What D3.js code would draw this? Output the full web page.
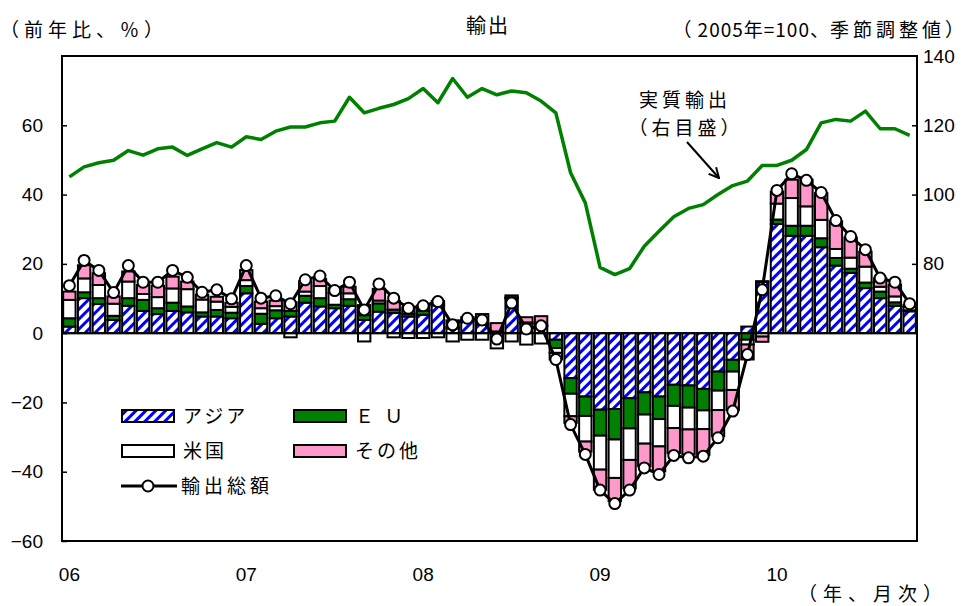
<!DOCTYPE html>
<html>
<head>
<meta charset="utf-8">
<script src="https://cdn.jsdelivr.net/npm/d3@7"></script>
<style>
  body { margin: 0; background: #fff; }
  svg text { font-family: "Liberation Sans", Arial, sans-serif; fill: #000; }
  svg .jp { font-family: "Noto Sans CJK JP", sans-serif; }
</style>
</head>
<body>
<div id="chart"></div>
<script>
// months 2006/01 .. 2010/10
var months = [
  "06/01","06/02","06/03","06/04","06/05","06/06","06/07","06/08","06/09","06/10","06/11","06/12",
  "07/01","07/02","07/03","07/04","07/05","07/06","07/07","07/08","07/09","07/10","07/11","07/12",
  "08/01","08/02","08/03","08/04","08/05","08/06","08/07","08/08","08/09","08/10","08/11","08/12",
  "09/01","09/02","09/03","09/04","09/05","09/06","09/07","09/08","09/09","09/10","09/11","09/12",
  "10/01","10/02","10/03","10/04","10/05","10/06","10/07","10/08","10/09","10/10"
]
var yearLabels = ["06","07","08","09","10"]

// contributions to y/y change (%)
var asia = [1.9,10.1,8.4,3.8,7.9,6.4,5.5,6.4,6.0,4.8,4.8,4.3,
            11.5,2.7,4.3,4.8,8.8,7.7,7.2,7.9,3.8,6.2,5.8,4.8,
            5.3,8.0,1.4,3.5,2.4,0.3,10.0,2.8,2.0,-1.9,-13.0,-18.3,
            -22.1,-21.9,-18.8,-17.1,-18.3,-14.9,-15.1,-16.1,-11.1,-7.7,1.9,14.8,
            31.5,28.1,28.1,24.8,19.5,17.4,13.0,10.1,7.9,6.3]
var eu   = [2.4,1.7,1.7,1.2,2.2,3.2,1.7,2.4,1.7,1.2,1.9,1.6,
            2.1,2.9,2.3,1.6,2.0,2.4,1.0,1.9,1.4,2.4,1.0,0.8,
            1.2,0.5,0.3,0.3,0.2,0.2,0.3,0.3,0.3,-2.4,-4.5,-5.6,
            -7.5,-8.8,-8.7,-6.4,-6.5,-6.1,-6.4,-6.2,-5.5,-3.4,-1.9,0.2,
            1.3,2.9,2.9,2.6,2.2,1.2,1.6,1.9,1.0,0.3]
var us   = [5.3,4.0,3.8,3.5,4.8,1.7,3.2,4.1,5.0,3.7,2.4,1.7,
            1.7,1.6,1.2,-1.2,1.2,3.5,3.4,1.7,-2.4,0.8,-1.2,-1.4,
            -1.4,-1.2,-2.4,-1.9,-1.9,-4.4,-2.4,-3.3,-3.0,-1.4,-6.5,-7.4,
            -9.8,-11.1,-9.1,-8.4,-7.9,-6.4,-6.3,-5.4,-5.6,-5.3,-1.4,-1.0,
            4.6,8.0,5.6,5.3,2.6,3.2,4.6,1.4,1.7,1.0]
var other = [2.4,3.8,3.4,2.1,2.9,2.6,3.3,3.4,2.2,1.4,1.4,1.2,
             2.9,1.9,1.6,2.5,3.0,2.0,1.4,1.9,2.9,3.4,2.5,1.8,
             1.5,0.8,2.0,0.8,2.9,2.4,0.6,1.5,2.6,-1.9,-1.9,-2.9,
             -5.8,-6.7,-8.2,-6.5,-7.2,-7.2,-7.2,-7.4,-7.5,-5.8,-4.3,-1.5,
             3.4,5.3,7.7,7.7,8.0,5.8,4.3,2.4,3.4,0.5]
// total exports y/y (%)
var total = [13.7,21.0,18.1,11.7,19.5,14.7,14.7,18.1,16.1,11.8,12.5,9.9,
             19.5,10.1,10.8,8.5,15.4,16.5,12.3,14.7,6.7,14.2,10.1,7.2,
             7.9,9.1,2.4,4.3,3.8,-1.7,8.7,1.2,2.1,-7.6,-26.4,-35.0,
             -45.3,-49.2,-45.3,-38.9,-40.8,-35.3,-36.0,-35.5,-30.2,-22.5,-6.2,12.5,
             41.2,46.0,44.1,40.6,32.5,27.9,24.1,15.9,14.7,8.5]
// real exports, 2005=100, s.a. (right axis)
var realExports = [105.1,108.0,109.2,109.9,112.7,111.4,113.2,113.7,111.3,113.2,115.0,113.7,
                   116.7,115.9,118.3,119.5,119.5,120.7,121.2,128.1,123.6,124.9,126.0,127.7,
                   130.6,126.5,133.5,128.1,130.6,128.8,129.9,129.4,127.0,123.6,106.3,97.6,
                   79.0,76.9,78.6,85.1,89.4,93.6,96.0,97.1,100.0,102.6,103.9,108.4,
                   108.4,109.9,113.0,120.7,121.7,121.2,124.1,119.0,119.0,117.1]

var leftTicks = [-60,-40,-20,0,20,40,60]
var rightTicks = [80,100,120,140]

var keys = ["asia","eu","us","other"]
var names = {asia: "アジア", eu: "Ｅ Ｕ", us: "米国", other: "その他"}

var width = 968, height = 606
var plot = {left: 62, right: 917, top: 56, bottom: 541}

var svg = d3.select("#chart").append("svg")
  .attr("width", width)
  .attr("height", height)

// hatch for asia
var defs = svg.append("defs")
defs.append("pattern")
  .attr("id", "hatch")
  .attr("patternUnits", "userSpaceOnUse")
  .attr("width", 7).attr("height", 7)
  .attr("patternTransform", "rotate(45)")
  .call(p => {
    p.append("rect").attr("width", 7).attr("height", 7).attr("fill", "#fff")
    p.append("rect").attr("width", 3).attr("height", 7).attr("fill", "#0000ff")
  })
defs.append("marker")
  .attr("id", "arrow")
  .attr("viewBox", "0 0 12 12")
  .attr("refX", 11).attr("refY", 6)
  .attr("markerWidth", 12).attr("markerHeight", 12)
  .attr("markerUnits", "userSpaceOnUse")
  .attr("orient", "auto")
  .append("path")
  .attr("d", "M1,1 L11,6 L1,11")
  .attr("fill", "none")
  .attr("stroke", "#000")
  .attr("stroke-width", 2)

var fills = {asia: "url(#hatch)", eu: "#008000", us: "#ffffff", other: "#ff99cc"}

// scales
var x = d3.scaleBand()
  .domain(months)
  .range([plot.left, plot.right])
  .paddingInner(0.16)
  .paddingOuter(0.08)

var y = d3.scaleLinear().domain([-60, 80]).range([plot.bottom, plot.top])
var y2 = d3.scaleLinear().domain([0, 140]).range([plot.bottom, plot.top])

// stacked bars
var table = months.map((m, i) => ({month: m, asia: asia[i], eu: eu[i], us: us[i], other: other[i]}))
var series = d3.stack().keys(keys).offset(d3.stackOffsetDiverging)(table)

svg.append("g")
  .selectAll("g")
  .data(series)
  .join("g")
    .attr("fill", d => fills[d.key])
  .selectAll("rect")
  .data(d => d.filter(s => s[1] !== s[0]))
  .join("rect")
    .attr("x", d => x(d.data.month))
    .attr("width", x.bandwidth())
    .attr("y", d => y(Math.max(d[0], d[1])))
    .attr("height", d => Math.abs(y(d[0]) - y(d[1])))
    .attr("stroke", "#000")
    .attr("stroke-width", 2)

// zero line
svg.append("line")
  .attr("x1", plot.left).attr("x2", plot.right)
  .attr("y1", y(0)).attr("y2", y(0))
  .attr("stroke", "#000").attr("stroke-width", 2)

// real exports line
var cx = m => x(m) + x.bandwidth() / 2
svg.append("path")
  .datum(realExports)
  .attr("fill", "none")
  .attr("stroke", "#008000")
  .attr("stroke-width", 3.5)
  .attr("stroke-linejoin", "round")
  .attr("d", d3.line().x((d, i) => cx(months[i])).y(d => y2(d)))

// total line with circles
svg.append("path")
  .datum(total)
  .attr("fill", "none")
  .attr("stroke", "#000")
  .attr("stroke-width", 3)
  .attr("stroke-linejoin", "round")
  .attr("d", d3.line().x((d, i) => cx(months[i])).y(d => y(d)))

svg.append("g")
  .selectAll("circle")
  .data(total)
  .join("circle")
    .attr("cx", (d, i) => cx(months[i]))
    .attr("cy", d => y(d))
    .attr("r", 5.5)
    .attr("fill", "#fff")
    .attr("stroke", "#000")
    .attr("stroke-width", 2)

// frame
svg.append("rect")
  .attr("x", plot.left).attr("y", plot.top)
  .attr("width", plot.right - plot.left)
  .attr("height", plot.bottom - plot.top)
  .attr("fill", "none")
  .attr("stroke", "#000")
  .attr("stroke-width", 2)

// axes
var axL = svg.append("g")
  .attr("transform", "translate(" + plot.left + ",0)")
  .call(d3.axisLeft(y).tickValues(leftTicks).tickSize(-5).tickPadding(19).tickFormat(d3.format("d")))
var axR = svg.append("g")
  .attr("transform", "translate(" + plot.right + ",0)")
  .call(d3.axisRight(y2).tickValues(rightTicks).tickSize(-5).tickPadding(6))
var axB = svg.append("g")
  .attr("transform", "translate(0," + plot.bottom + ")")
  .call(d3.axisBottom(x)
    .tickValues(months.filter(m => m.slice(3) == "01"))
    .tickSize(0).tickPadding(27)
    .tickFormat(m => yearLabels[yearLabels.indexOf(m.slice(0, 2))]))
;[axL, axR, axB].forEach(a => {
  a.select(".domain").remove()
  a.selectAll("line").attr("stroke", "#000").attr("stroke-width", 1.5)
  a.selectAll("text").style("font-size", "19px").attr("fill", "#000")
})
axR.selectAll(".tick").filter(d => d == 140).select("line").remove()

// titles
svg.append("text").attr("class", "jp")
  .attr("x", 488).attr("y", 33)
  .attr("text-anchor", "middle")
  .style("font-size", "20px")
  .style("letter-spacing", "2px")
  .text("輸出")
svg.append("text").attr("class", "jp")
  .attr("x", 0).attr("y", 37)
  .style("font-size", "19px")
  .style("letter-spacing", "5px")
  .text("（前年比、％）")
// right title: digits tight, kanji spaced
var rt = svg.append("text").attr("class", "jp")
  .attr("x", 964).attr("y", 37)
  .attr("text-anchor", "end")
  .style("font-size", "19px")
rt.append("tspan").style("letter-spacing", "6px").text("（")
rt.append("tspan").style("letter-spacing", "1px").text("2005年=100、")
rt.append("tspan").style("letter-spacing", "4px").text("季節調整値")
rt.append("tspan").style("letter-spacing", "0px").text("）")
svg.append("text").attr("class", "jp")
  .attr("x", 948).attr("y", 601)
  .attr("text-anchor", "end")
  .style("font-size", "19px")
  .style("letter-spacing", "6px")
  .text("（年、月次）")

// annotation
svg.append("text").attr("class", "jp")
  .attr("x", 685).attr("y", 107)
  .attr("text-anchor", "middle")
  .style("font-size", "19px")
  .style("letter-spacing", "4px")
  .text("実質輸出")
svg.append("text").attr("class", "jp")
  .attr("x", 686).attr("y", 135)
  .attr("text-anchor", "middle")
  .style("font-size", "19px")
  .style("letter-spacing", "4px")
  .text("（右目盛）")
svg.append("line")
  .attr("x1", 687).attr("y1", 142)
  .attr("x2", 719).attr("y2", 178)
  .attr("stroke", "#000").attr("stroke-width", 2)
  .attr("marker-end", "url(#arrow)")

// legend
var legend = svg.append("g").attr("class", "legend")
var legendItems = [
  {key: "asia", col: 0, row: 0},
  {key: "eu", col: 1, row: 0},
  {key: "us", col: 0, row: 1},
  {key: "other", col: 1, row: 1}
]
legendItems.forEach(it => {
  var lx = 122 + it.col * 172
  var ly = 416 + it.row * 35
  legend.append("rect")
    .attr("x", lx).attr("y", ly - 6)
    .attr("width", 52).attr("height", 12)
    .attr("fill", fills[it.key])
    .attr("stroke", "#000").attr("stroke-width", 2)
  legend.append("text").attr("class", "jp")
    .attr("x", lx + 61).attr("y", ly + 7)
    .style("font-size", "19px")
    .style("letter-spacing", "3px")
    .text(names[it.key])
})
legend.append("line")
  .attr("x1", 121).attr("x2", 177)
  .attr("y1", 486).attr("y2", 486)
  .attr("stroke", "#000").attr("stroke-width", 3)
legend.append("circle")
  .attr("cx", 148).attr("cy", 486).attr("r", 5.5)
  .attr("fill", "#fff").attr("stroke", "#000").attr("stroke-width", 2)
legend.append("text").attr("class", "jp")
  .attr("x", 181).attr("y", 493)
  .style("font-size", "19px")
  .style("letter-spacing", "4px")
  .text("輸出総額")
</script>
</body>
</html>
